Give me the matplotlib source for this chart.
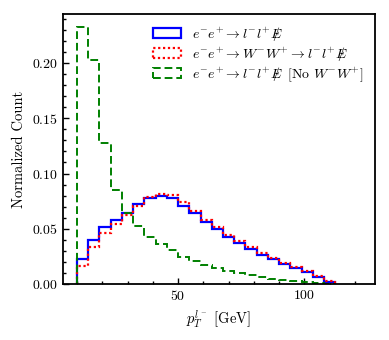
import numpy as np
import matplotlib
matplotlib.use("Agg")
import matplotlib.pyplot as plt
from matplotlib.ticker import MultipleLocator

plt.rcParams['font.family'] = ['cmr10', 'DejaVu Serif']
plt.rcParams['mathtext.fontset'] = 'cm'
plt.rcParams['axes.formatter.use_mathtext'] = True
plt.rcParams['font.size'] = 10

# bin edges: 23 bins starting at 10 GeV, width 40/9 GeV
bin_start = 10.0
bin_width = 40.0 / 9.0
n_bins = 23

full = [0.0229, 0.0401, 0.0513, 0.0582, 0.0646, 0.0721, 0.0781, 0.0796, 0.0775,
        0.0709, 0.0640, 0.0564, 0.0495, 0.0428, 0.0368, 0.0314, 0.0265, 0.0223,
        0.0181, 0.0142, 0.0106, 0.0063, 0.0018]
ww = [0.0166, 0.0338, 0.0465, 0.0540, 0.0621, 0.0709, 0.0790, 0.0811, 0.0802,
      0.0739, 0.0661, 0.0579, 0.0513, 0.0443, 0.0389, 0.0332, 0.0284, 0.0238,
      0.0193, 0.0154, 0.0115, 0.0072, 0.0024]
noww = [0.2329, 0.2027, 0.1279, 0.0854, 0.0646, 0.0522, 0.0428, 0.0357, 0.0303,
        0.0247, 0.0211, 0.0175, 0.0148, 0.0118, 0.0097, 0.0081, 0.0060, 0.0048,
        0.0039, 0.0027, 0.0015, 0.0006, 0.0000]

labels = [r"$e^{-}e^{+}\to l^{-}l^{+}E\!\!\!\!/$",
          r"$e^{-}e^{+}\to W^{-}W^{+}\to l^{-}l^{+}E\!\!\!\!/$",
          r"$e^{-}e^{+}\to l^{-}l^{+}E\!\!\!\!/\;$ [No $W^{-}W^{+}$]"]

edges = bin_start + bin_width * np.arange(n_bins + 1)
centers = 0.5 * (edges[:-1] + edges[1:])

fig = plt.figure(figsize=(3.89, 3.40), dpi=100)
ax = fig.add_axes([0.161, 0.165, 0.802, 0.794])

ax.hist(centers, bins=edges, weights=full, histtype='step', color='blue',
        lw=1.6, label=labels[0])
ax.hist(centers, bins=edges, weights=ww, histtype='step', color='red',
        lw=1.6, ls=(0, (1, 1.2)), label=labels[1])
ax.hist(centers, bins=edges, weights=noww, histtype='step', color='green',
        lw=1.4, ls=(0, (4, 2)), label=labels[2])

ax.set_xlim(4.3, 127.8)
ax.set_ylim(0, 0.2446)
ax.xaxis.set_major_locator(MultipleLocator(50))
ax.xaxis.set_minor_locator(MultipleLocator(10))
ax.yaxis.set_major_locator(MultipleLocator(0.05))
ax.yaxis.set_minor_locator(MultipleLocator(0.01))
ax.tick_params(which='both', direction='in', width=1.0, labelsize=10)
ax.tick_params(which='major', length=4)
ax.tick_params(which='minor', length=2.3)
for s in ax.spines.values():
    s.set_linewidth(1.3)

ax.set_xlabel(r"$p_T^{l^-}$ [GeV]", fontsize=10.5)
ax.set_ylabel("Normalized Count", fontsize=10.5)

ax.legend(loc='upper right', frameon=False, fontsize=10,
          handlelength=2.0, borderaxespad=0.4, labelspacing=0.15)

fig.savefig("out.png", dpi=100)
